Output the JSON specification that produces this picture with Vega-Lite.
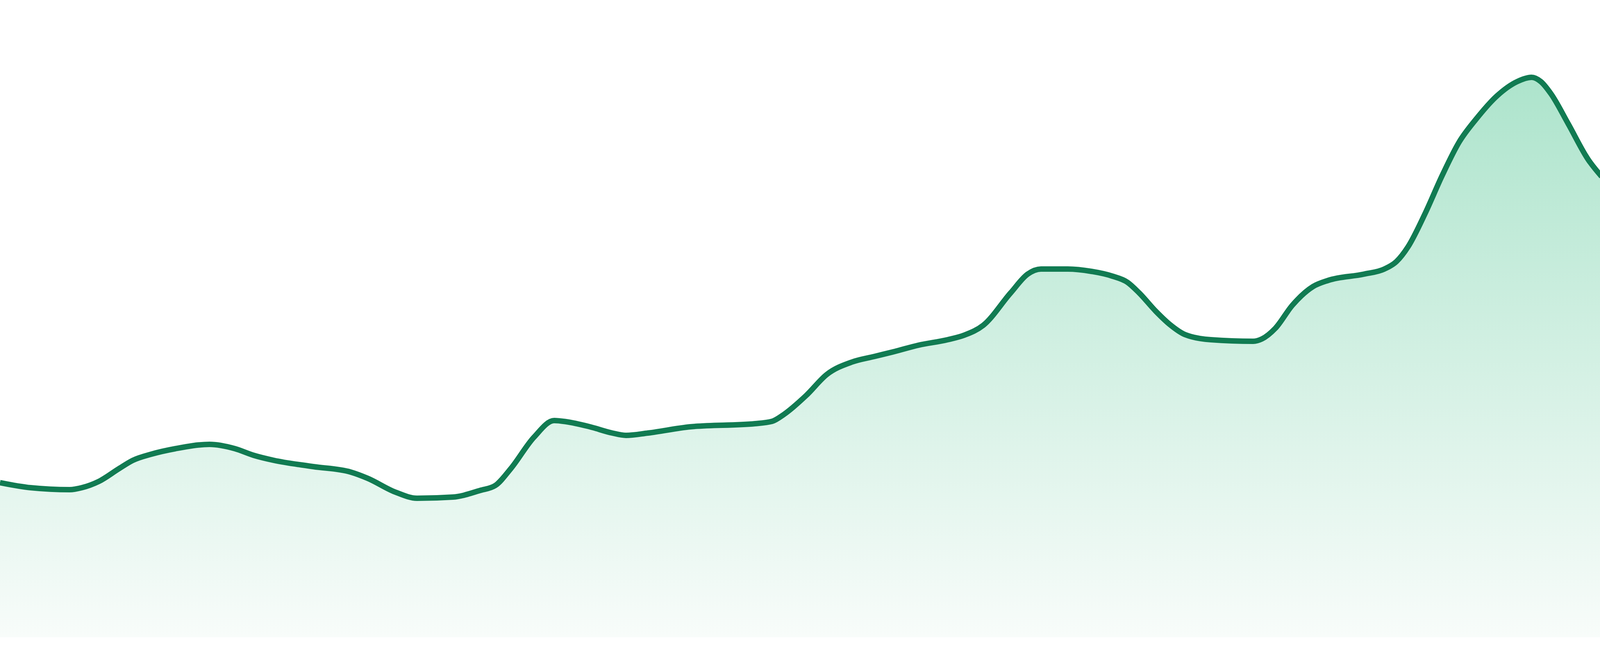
{
  "$schema": "https://vega.github.io/schema/vega-lite/v6.json",
  "width": 4100,
  "height": 1632,
  "padding": {"left": 0, "right": 0, "top": 0, "bottom": 48},
  "autosize": {"type": "none"},
  "background": "#ffffff",
  "config": {"view": {"stroke": null}},
  "data": {
    "values": [
      {"t": 0, "v": 396}, {"t": 92, "v": 383}, {"t": 209, "v": 378}, {"t": 245, "v": 383},
      {"t": 296, "v": 399}, {"t": 357, "v": 432}, {"t": 398, "v": 453}, {"t": 454, "v": 469},
      {"t": 526, "v": 483}, {"t": 628, "v": 494}, {"t": 704, "v": 483}, {"t": 760, "v": 466},
      {"t": 821, "v": 453}, {"t": 939, "v": 437}, {"t": 1051, "v": 423}, {"t": 1102, "v": 407},
      {"t": 1184, "v": 372}, {"t": 1250, "v": 356}, {"t": 1357, "v": 359}, {"t": 1439, "v": 376},
      {"t": 1485, "v": 389}, {"t": 1531, "v": 432}, {"t": 1600, "v": 512}, {"t": 1661, "v": 555},
      {"t": 1697, "v": 552}, {"t": 1768, "v": 539}, {"t": 1835, "v": 523}, {"t": 1876, "v": 517},
      {"t": 1942, "v": 523}, {"t": 2069, "v": 539}, {"t": 2263, "v": 547}, {"t": 2314, "v": 553},
      {"t": 2350, "v": 571}, {"t": 2416, "v": 619}, {"t": 2478, "v": 673}, {"t": 2554, "v": 705},
      {"t": 2620, "v": 719}, {"t": 2682, "v": 732}, {"t": 2753, "v": 748}, {"t": 2840, "v": 762},
      {"t": 2891, "v": 774}, {"t": 2947, "v": 799}, {"t": 3029, "v": 882}, {"t": 3080, "v": 930},
      {"t": 3120, "v": 943}, {"t": 3200, "v": 943}, {"t": 3271, "v": 937}, {"t": 3333, "v": 925},
      {"t": 3379, "v": 909}, {"t": 3414, "v": 882}, {"t": 3465, "v": 834}, {"t": 3506, "v": 801},
      {"t": 3552, "v": 775}, {"t": 3629, "v": 762}, {"t": 3756, "v": 758}, {"t": 3782, "v": 764},
      {"t": 3822, "v": 791}, {"t": 3873, "v": 850}, {"t": 3935, "v": 898}, {"t": 3981, "v": 914},
      {"t": 4088, "v": 930}, {"t": 4149, "v": 943}, {"t": 4185, "v": 962}, {"t": 4220, "v": 1000},
      {"t": 4271, "v": 1085}, {"t": 4322, "v": 1182}, {"t": 4373, "v": 1268}, {"t": 4424, "v": 1327},
      {"t": 4486, "v": 1386}, {"t": 4547, "v": 1423}, {"t": 4590, "v": 1434}, {"t": 4618, "v": 1423},
      {"t": 4649, "v": 1391}, {"t": 4700, "v": 1315}, {"t": 4761, "v": 1222}, {"t": 4800, "v": 1180}
    ]
  },
  "encoding": {
    "x": {
      "field": "t",
      "type": "quantitative",
      "axis": null,
      "scale": {"domain": [0, 4800], "nice": false, "zero": false}
    },
    "y": {
      "field": "v",
      "type": "quantitative",
      "axis": null,
      "scale": {"domain": [0, 1632], "nice": false, "zero": true}
    }
  },
  "layer": [
    {
      "mark": {
        "type": "area",
        "interpolate": "monotone",
        "color": {
          "gradient": "linear",
          "x1": 0, "y1": 0, "x2": 0, "y2": 1,
          "stops": [
            {"offset": 0, "color": "#ade4cc"},
            {"offset": 1, "color": "#f8fcfa"}
          ]
        }
      }
    },
    {
      "mark": {
        "type": "line",
        "interpolate": "monotone",
        "color": "#117b52",
        "strokeWidth": 14,
        "strokeJoin": "round"
      }
    }
  ]
}
